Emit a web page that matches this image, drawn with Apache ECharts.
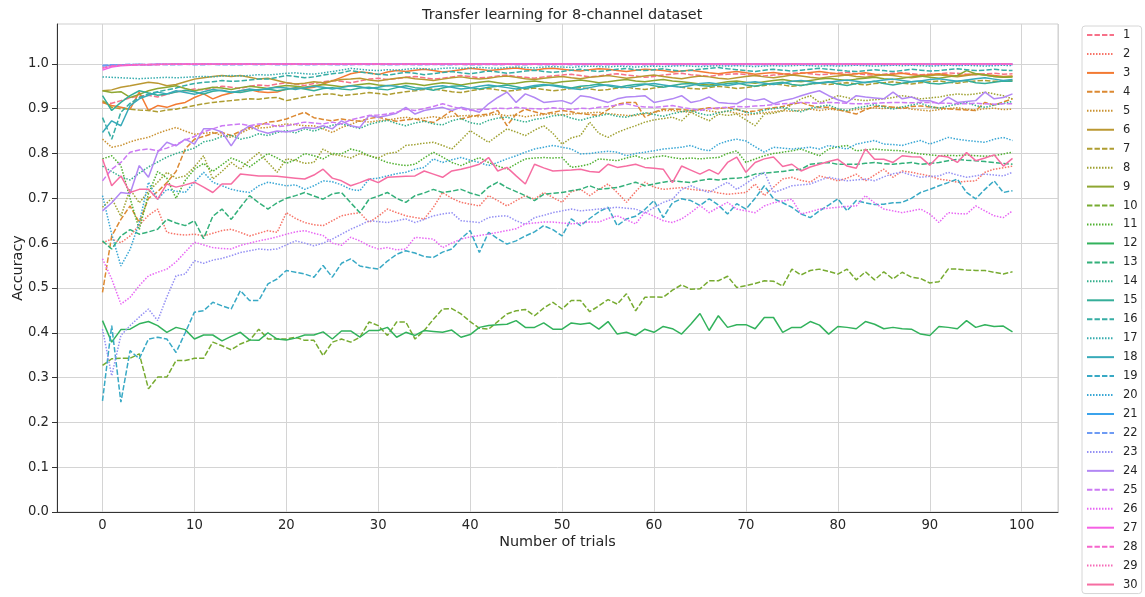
<!DOCTYPE html>
<html>
<head>
<meta charset="utf-8">
<title>Transfer learning for 8-channel dataset</title>
<script src="https://cdn.jsdelivr.net/npm/echarts@6/dist/echarts.min.js"></script>
<style>
  html, body { margin: 0; padding: 0; background: #ffffff; }
  #chart { width: 1145px; height: 597px; }
</style>
</head>
<body>
<div id="chart"></div>
<script>
// Accuracy per trial (trials 0..99) for each of the 30 runs
const s1 = [
  0.914, 0.912, 0.918, 0.924, 0.928, 0.930, 0.926, 0.932, 0.938, 0.940,
  0.944, 0.942, 0.946, 0.950, 0.948, 0.945, 0.950, 0.953, 0.951, 0.955,
  0.958, 0.955, 0.952, 0.956, 0.960, 0.963, 0.961, 0.958, 0.962, 0.966,
  0.968, 0.965, 0.967, 0.970, 0.972, 0.969, 0.966, 0.968, 0.971, 0.974,
  0.972, 0.969, 0.970, 0.973, 0.975, 0.972, 0.970, 0.968, 0.971, 0.973,
  0.975, 0.977, 0.974, 0.971, 0.973, 0.976, 0.978, 0.975, 0.973, 0.970,
  0.972, 0.975, 0.977, 0.979, 0.976, 0.974, 0.972, 0.975, 0.977, 0.978,
  0.976, 0.974, 0.973, 0.975, 0.977, 0.979, 0.980, 0.978, 0.976, 0.977,
  0.979, 0.981, 0.978, 0.976, 0.975, 0.977, 0.979, 0.980, 0.978, 0.976,
  0.977, 0.978, 0.980, 0.979, 0.977, 0.976, 0.978, 0.979, 0.977, 0.978
];
const s2 = [
  0.601, 0.609, 0.601, 0.616, 0.640, 0.662, 0.676, 0.624, 0.620, 0.618,
  0.620, 0.616, 0.622, 0.628, 0.631, 0.624, 0.616, 0.622, 0.628, 0.624,
  0.668, 0.655, 0.646, 0.641, 0.639, 0.650, 0.661, 0.665, 0.668, 0.646,
  0.660, 0.676, 0.668, 0.661, 0.657, 0.654, 0.680, 0.713, 0.700, 0.691,
  0.687, 0.683, 0.706, 0.695, 0.683, 0.695, 0.706, 0.698, 0.713, 0.702,
  0.691, 0.715, 0.720, 0.706, 0.720, 0.732, 0.713, 0.691, 0.715, 0.736,
  0.725, 0.720, 0.722, 0.724, 0.720, 0.718, 0.717, 0.712, 0.709, 0.711,
  0.713, 0.732, 0.706, 0.725, 0.743, 0.747, 0.740, 0.736, 0.750, 0.745,
  0.739, 0.745, 0.754, 0.739, 0.752, 0.765, 0.747, 0.761, 0.758, 0.754,
  0.750, 0.743, 0.740, 0.736, 0.738, 0.739, 0.758, 0.765, 0.768, 0.772
];
const s3 = [
  0.914, 0.907, 0.903, 0.899, 0.937, 0.896, 0.907, 0.903, 0.910, 0.914,
  0.925, 0.933, 0.922, 0.930, 0.935, 0.940, 0.943, 0.938, 0.936, 0.937,
  0.944, 0.946, 0.945, 0.948, 0.955, 0.962, 0.970, 0.978, 0.982, 0.980,
  0.976, 0.982, 0.985, 0.983, 0.986, 0.988, 0.985, 0.982, 0.984, 0.987,
  0.990, 0.988, 0.985, 0.987, 0.989, 0.991, 0.988, 0.986, 0.989, 0.990,
  0.988, 0.986, 0.984, 0.987, 0.989, 0.988, 0.985, 0.983, 0.986, 0.988,
  0.987, 0.985, 0.982, 0.984, 0.986, 0.983, 0.980, 0.978, 0.981, 0.983,
  0.980, 0.977, 0.979, 0.981, 0.978, 0.976, 0.979, 0.981, 0.983, 0.980,
  0.978, 0.976, 0.978, 0.980, 0.977, 0.975, 0.977, 0.979, 0.976, 0.974,
  0.976, 0.978, 0.975, 0.973, 0.976, 0.978, 0.976, 0.974, 0.972, 0.973
];
const s4 = [
  0.490, 0.616, 0.653, 0.683, 0.646, 0.700, 0.715, 0.735, 0.760, 0.810,
  0.832, 0.838, 0.845, 0.847, 0.840, 0.850, 0.858, 0.862, 0.870, 0.872,
  0.877, 0.885, 0.892, 0.880, 0.876, 0.873, 0.877, 0.874, 0.872, 0.878,
  0.881, 0.876, 0.872, 0.875, 0.877, 0.873, 0.869, 0.882, 0.896, 0.877,
  0.882, 0.886, 0.888, 0.896, 0.862, 0.888, 0.899, 0.893, 0.888, 0.892,
  0.896, 0.893, 0.889, 0.887, 0.885, 0.898, 0.910, 0.914, 0.914, 0.881,
  0.892, 0.899, 0.899, 0.898, 0.896, 0.899, 0.902, 0.900, 0.903, 0.898,
  0.893, 0.895, 0.899, 0.902, 0.905, 0.910, 0.914, 0.907, 0.903, 0.903,
  0.898, 0.893, 0.888, 0.898, 0.905, 0.906, 0.903, 0.900, 0.905, 0.906,
  0.904, 0.902, 0.900, 0.898, 0.897, 0.896, 0.914, 0.908, 0.915, 0.922
];
const s5 = [
  0.832, 0.814, 0.818, 0.826, 0.832, 0.836, 0.845, 0.852, 0.858, 0.850,
  0.843, 0.845, 0.847, 0.840, 0.836, 0.845, 0.855, 0.857, 0.858, 0.862,
  0.866, 0.864, 0.862, 0.862, 0.855, 0.847, 0.858, 0.865, 0.873, 0.870,
  0.873, 0.875, 0.878, 0.881, 0.877, 0.879, 0.882, 0.879, 0.883, 0.884,
  0.885, 0.882, 0.886, 0.888, 0.884, 0.886, 0.882, 0.885, 0.887, 0.889,
  0.886, 0.888, 0.890, 0.891, 0.892, 0.889, 0.887, 0.885, 0.885, 0.889,
  0.892, 0.896, 0.896, 0.894, 0.892, 0.898, 0.895, 0.892, 0.894, 0.890,
  0.886, 0.888, 0.891, 0.893, 0.896, 0.894, 0.897, 0.899, 0.896, 0.899,
  0.897, 0.895, 0.898, 0.900, 0.902, 0.900, 0.903, 0.903, 0.899, 0.897,
  0.895, 0.898, 0.900, 0.902, 0.899, 0.897, 0.900, 0.901, 0.898, 0.899
];
const s6 = [
  0.940, 0.942, 0.948, 0.951, 0.955, 0.959, 0.957, 0.951, 0.954, 0.960,
  0.966, 0.969, 0.972, 0.974, 0.972, 0.974, 0.970, 0.966, 0.968, 0.963,
  0.958, 0.955, 0.957, 0.960, 0.958, 0.962, 0.965, 0.966, 0.968, 0.964,
  0.962, 0.965, 0.968, 0.970, 0.967, 0.965, 0.963, 0.966, 0.969, 0.971,
  0.968, 0.966, 0.968, 0.971, 0.973, 0.970, 0.967, 0.965, 0.968, 0.970,
  0.972, 0.969, 0.967, 0.970, 0.972, 0.974, 0.971, 0.968, 0.970, 0.973,
  0.975, 0.972, 0.969, 0.967, 0.970, 0.973, 0.971, 0.968, 0.966, 0.969,
  0.972, 0.974, 0.971, 0.969, 0.972, 0.975, 0.973, 0.970, 0.968, 0.971,
  0.973, 0.975, 0.972, 0.970, 0.973, 0.976, 0.974, 0.971, 0.969, 0.972,
  0.974, 0.976, 0.973, 0.971, 0.974, 0.977, 0.975, 0.972, 0.970, 0.972
];
const s7 = [
  0.918, 0.903, 0.900, 0.899, 0.897, 0.896, 0.893, 0.897, 0.899, 0.903,
  0.907, 0.911, 0.914, 0.916, 0.918, 0.920, 0.922, 0.921, 0.924, 0.925,
  0.918, 0.922, 0.926, 0.930, 0.932, 0.933, 0.929, 0.931, 0.933, 0.936,
  0.934, 0.931, 0.935, 0.938, 0.940, 0.943, 0.944, 0.941, 0.938, 0.936,
  0.940, 0.943, 0.945, 0.942, 0.939, 0.941, 0.944, 0.946, 0.943, 0.940,
  0.942, 0.945, 0.947, 0.944, 0.941, 0.943, 0.946, 0.948, 0.945, 0.943,
  0.946, 0.949, 0.951, 0.948, 0.945, 0.944, 0.947, 0.950, 0.948, 0.945,
  0.947, 0.950, 0.952, 0.955, 0.953, 0.950, 0.952, 0.955, 0.957, 0.954,
  0.956, 0.958, 0.955, 0.953, 0.956, 0.958, 0.960, 0.957, 0.955, 0.958,
  0.960, 0.962, 0.959, 0.957, 0.960, 0.962, 0.963, 0.961, 0.962, 0.963
];
const s8 = [
  0.680, 0.700, 0.660, 0.720, 0.690, 0.715, 0.736, 0.758, 0.745, 0.750,
  0.770, 0.795, 0.743, 0.760, 0.780, 0.765, 0.785, 0.802, 0.780, 0.758,
  0.788, 0.785, 0.778, 0.780, 0.810, 0.798, 0.795, 0.790, 0.800, 0.795,
  0.790, 0.800, 0.803, 0.818, 0.820, 0.823, 0.825, 0.818, 0.810, 0.830,
  0.851, 0.838, 0.825, 0.840, 0.855, 0.848, 0.840, 0.852, 0.862, 0.845,
  0.821, 0.835, 0.840, 0.870, 0.845, 0.836, 0.847, 0.855, 0.862, 0.870,
  0.875, 0.878, 0.881, 0.873, 0.892, 0.882, 0.873, 0.888, 0.885, 0.888,
  0.875, 0.862, 0.888, 0.890, 0.895, 0.910, 0.922, 0.929, 0.914, 0.920,
  0.929, 0.925, 0.920, 0.918, 0.920, 0.922, 0.925, 0.929, 0.926, 0.922,
  0.924, 0.926, 0.930, 0.933, 0.931, 0.933, 0.937, 0.933, 0.929, 0.922
];
const s9 = [
  0.940, 0.936, 0.938, 0.925, 0.932, 0.940, 0.945, 0.948, 0.951, 0.945,
  0.940, 0.944, 0.948, 0.946, 0.943, 0.947, 0.950, 0.948, 0.945, 0.949,
  0.952, 0.950, 0.948, 0.951, 0.954, 0.952, 0.949, 0.951, 0.954, 0.956,
  0.953, 0.951, 0.954, 0.957, 0.955, 0.952, 0.955, 0.958, 0.956, 0.953,
  0.956, 0.959, 0.961, 0.958, 0.955, 0.957, 0.960, 0.962, 0.959, 0.957,
  0.960, 0.962, 0.964, 0.961, 0.958, 0.960, 0.963, 0.965, 0.962, 0.960,
  0.963, 0.965, 0.962, 0.960, 0.958, 0.955, 0.953, 0.957, 0.960, 0.962,
  0.959, 0.957, 0.960, 0.963, 0.965, 0.962, 0.960, 0.963, 0.966, 0.968,
  0.965, 0.963, 0.966, 0.968, 0.970, 0.967, 0.965, 0.968, 0.971, 0.973,
  0.970, 0.968, 0.971, 0.974, 0.985, 0.978, 0.975, 0.972, 0.970, 0.971
];
const s10 = [
  0.327, 0.342, 0.343, 0.343, 0.353, 0.275, 0.301, 0.301, 0.338, 0.338,
  0.343, 0.343, 0.379, 0.371, 0.362, 0.375, 0.383, 0.408, 0.386, 0.386,
  0.386, 0.390, 0.383, 0.383, 0.349, 0.379, 0.386, 0.379, 0.390, 0.424,
  0.416, 0.394, 0.424, 0.424, 0.386, 0.405, 0.430, 0.453, 0.454, 0.442,
  0.425, 0.410, 0.408, 0.425, 0.442, 0.449, 0.452, 0.438, 0.455, 0.468,
  0.453, 0.472, 0.472, 0.447, 0.460, 0.474, 0.464, 0.487, 0.449, 0.479,
  0.480, 0.479, 0.495, 0.507, 0.497, 0.498, 0.516, 0.516, 0.526, 0.501,
  0.505, 0.510, 0.516, 0.515, 0.504, 0.542, 0.529, 0.539, 0.542, 0.537,
  0.531, 0.542, 0.518, 0.536, 0.518, 0.536, 0.520, 0.535, 0.524, 0.521,
  0.511, 0.514, 0.542, 0.542, 0.540, 0.539, 0.539, 0.535, 0.531, 0.536
];
const s11 = [
  0.788, 0.795, 0.773, 0.700, 0.630, 0.710, 0.760, 0.745, 0.700, 0.740,
  0.765, 0.778, 0.760, 0.775, 0.790, 0.782, 0.770, 0.785, 0.800, 0.790,
  0.778, 0.786, 0.800, 0.795, 0.788, 0.800, 0.799, 0.810, 0.805, 0.795,
  0.788, 0.780, 0.776, 0.773, 0.776, 0.790, 0.803, 0.792, 0.780, 0.773,
  0.782, 0.791, 0.780, 0.772, 0.765, 0.777, 0.788, 0.790, 0.791, 0.790,
  0.791, 0.769, 0.772, 0.776, 0.788, 0.786, 0.784, 0.790, 0.795, 0.788,
  0.792, 0.795, 0.791, 0.788, 0.790, 0.788, 0.790, 0.791, 0.800, 0.806,
  0.780, 0.788, 0.795, 0.800, 0.803, 0.806, 0.810, 0.802, 0.795, 0.810,
  0.815, 0.818, 0.806, 0.808, 0.810, 0.808, 0.807, 0.806, 0.802, 0.799,
  0.797, 0.795, 0.796, 0.795, 0.797, 0.795, 0.794, 0.795, 0.799, 0.803
];
const s12 = [
  0.427, 0.379, 0.407, 0.408, 0.420, 0.425, 0.416, 0.401, 0.412, 0.407,
  0.386, 0.395, 0.395, 0.382, 0.392, 0.401, 0.384, 0.383, 0.400, 0.386,
  0.384, 0.388, 0.395, 0.395, 0.402, 0.386, 0.404, 0.404, 0.390, 0.405,
  0.405, 0.412, 0.390, 0.401, 0.394, 0.405, 0.403, 0.401, 0.406, 0.390,
  0.396, 0.412, 0.416, 0.418, 0.419, 0.427, 0.412, 0.412, 0.422, 0.408,
  0.408, 0.422, 0.419, 0.422, 0.408, 0.425, 0.397, 0.401, 0.394, 0.408,
  0.401, 0.414, 0.409, 0.397, 0.419, 0.443, 0.405, 0.438, 0.412, 0.418,
  0.418, 0.409, 0.434, 0.434, 0.401, 0.412, 0.412, 0.425, 0.417, 0.397,
  0.414, 0.412, 0.409, 0.425, 0.419, 0.409, 0.412, 0.409, 0.408, 0.397,
  0.394, 0.414, 0.412, 0.409, 0.427, 0.412, 0.418, 0.414, 0.415, 0.402
];
const s13 = [
  0.605, 0.587, 0.616, 0.630, 0.620, 0.625, 0.631, 0.653, 0.645, 0.639,
  0.650, 0.610, 0.660, 0.676, 0.653, 0.680, 0.706, 0.690, 0.676, 0.690,
  0.700, 0.706, 0.713, 0.705, 0.698, 0.710, 0.713, 0.690, 0.668, 0.698,
  0.705, 0.713, 0.700, 0.691, 0.706, 0.712, 0.720, 0.713, 0.716, 0.720,
  0.712, 0.706, 0.725, 0.736, 0.724, 0.715, 0.706, 0.695, 0.709, 0.711,
  0.713, 0.717, 0.720, 0.728, 0.720, 0.722, 0.724, 0.730, 0.736, 0.728,
  0.732, 0.736, 0.739, 0.737, 0.735, 0.740, 0.743, 0.741, 0.744, 0.745,
  0.747, 0.754, 0.756, 0.758, 0.760, 0.763, 0.765, 0.776, 0.778, 0.780,
  0.776, 0.776, 0.776, 0.778, 0.780, 0.777, 0.776, 0.778, 0.780, 0.776,
  0.778, 0.780, 0.784, 0.787, 0.785, 0.784, 0.782, 0.780, 0.778, 0.776
];
const s14 = [
  0.772, 0.760, 0.748, 0.741, 0.756, 0.770, 0.781, 0.792, 0.800, 0.806,
  0.812, 0.826, 0.830, 0.838, 0.841, 0.832, 0.836, 0.844, 0.840, 0.847,
  0.851, 0.846, 0.855, 0.850, 0.857, 0.863, 0.866, 0.861, 0.856, 0.865,
  0.870, 0.874, 0.867, 0.862, 0.868, 0.872, 0.866, 0.864, 0.873, 0.878,
  0.869, 0.865, 0.874, 0.879, 0.881, 0.875, 0.870, 0.876, 0.879, 0.884,
  0.886, 0.879, 0.874, 0.880, 0.884, 0.888, 0.883, 0.881, 0.887, 0.891,
  0.887, 0.883, 0.889, 0.893, 0.896, 0.889, 0.885, 0.891, 0.895, 0.899,
  0.892, 0.889, 0.897, 0.900, 0.903, 0.897, 0.893, 0.901, 0.905, 0.908,
  0.900, 0.896, 0.902, 0.905, 0.909, 0.904, 0.899, 0.904, 0.908, 0.912,
  0.905, 0.901, 0.906, 0.910, 0.914, 0.907, 0.903, 0.908, 0.912, 0.916
];
const s15 = [
  0.929, 0.896, 0.914, 0.929, 0.940, 0.935, 0.930, 0.933, 0.937, 0.941,
  0.938, 0.933, 0.939, 0.941, 0.937, 0.936, 0.940, 0.943, 0.944, 0.940,
  0.943, 0.947, 0.944, 0.940, 0.945, 0.947, 0.944, 0.942, 0.946, 0.948,
  0.944, 0.942, 0.947, 0.951, 0.947, 0.945, 0.941, 0.946, 0.950, 0.951,
  0.947, 0.944, 0.948, 0.950, 0.953, 0.949, 0.945, 0.949, 0.952, 0.953,
  0.950, 0.946, 0.950, 0.952, 0.955, 0.951, 0.947, 0.951, 0.954, 0.955,
  0.951, 0.948, 0.952, 0.955, 0.956, 0.952, 0.950, 0.953, 0.956, 0.958,
  0.953, 0.950, 0.954, 0.957, 0.959, 0.954, 0.952, 0.955, 0.958, 0.960,
  0.955, 0.952, 0.956, 0.959, 0.961, 0.956, 0.953, 0.957, 0.960, 0.962,
  0.957, 0.955, 0.958, 0.961, 0.963, 0.958, 0.956, 0.959, 0.962, 0.961
];
const s16 = [
  0.880, 0.832, 0.892, 0.912, 0.925, 0.933, 0.938, 0.942, 0.946, 0.952,
  0.956, 0.959, 0.960, 0.963, 0.961, 0.962, 0.964, 0.966, 0.966, 0.970,
  0.974, 0.972, 0.969, 0.971, 0.975, 0.978, 0.980, 0.985, 0.982, 0.979,
  0.977, 0.975, 0.978, 0.981, 0.979, 0.976, 0.978, 0.981, 0.983, 0.980,
  0.978, 0.981, 0.984, 0.982, 0.979, 0.981, 0.984, 0.986, 0.983, 0.981,
  0.983, 0.986, 0.988, 0.985, 0.983, 0.985, 0.988, 0.990, 0.987, 0.985,
  0.987, 0.989, 0.986, 0.984, 0.986, 0.988, 0.990, 0.992, 0.989, 0.987,
  0.985, 0.983, 0.986, 0.988, 0.986, 0.984, 0.986, 0.988, 0.990, 0.988,
  0.986, 0.984, 0.983, 0.985, 0.987, 0.985, 0.983, 0.985, 0.988, 0.986,
  0.984, 0.985, 0.987, 0.989, 0.987, 0.985, 0.986, 0.988, 0.986, 0.985
];
const s17 = [
  0.971, 0.970, 0.969, 0.968, 0.967, 0.968, 0.969, 0.970, 0.969, 0.970,
  0.971, 0.972, 0.971, 0.973, 0.974, 0.973, 0.974, 0.976, 0.975, 0.977,
  0.979, 0.980, 0.978, 0.977, 0.980, 0.983, 0.986, 0.990, 0.988, 0.986,
  0.985, 0.987, 0.986, 0.988, 0.990, 0.989, 0.988, 0.990, 0.991, 0.990,
  0.991, 0.992, 0.991, 0.990, 0.992, 0.993, 0.992, 0.991, 0.993, 0.994,
  0.993, 0.992, 0.994, 0.995, 0.994, 0.993, 0.995, 0.994, 0.993, 0.994,
  0.995, 0.994, 0.995, 0.996, 0.995, 0.994, 0.995, 0.996, 0.995, 0.996,
  0.995, 0.994, 0.995, 0.996, 0.995, 0.996, 0.997, 0.996, 0.995, 0.996,
  0.995, 0.996, 0.997, 0.996, 0.995, 0.996, 0.997, 0.996, 0.997, 0.996,
  0.995, 0.996, 0.997, 0.996, 0.997, 0.996, 0.995, 0.996, 0.997, 0.996
];
const s18 = [
  0.847, 0.873, 0.862, 0.907, 0.922, 0.930, 0.937, 0.933, 0.940, 0.936,
  0.932, 0.938, 0.943, 0.940, 0.936, 0.940, 0.944, 0.941, 0.945, 0.948,
  0.946, 0.943, 0.947, 0.950, 0.948, 0.944, 0.947, 0.951, 0.949, 0.945,
  0.948, 0.952, 0.950, 0.946, 0.942, 0.945, 0.949, 0.951, 0.948, 0.944,
  0.946, 0.950, 0.953, 0.950, 0.947, 0.944, 0.948, 0.952, 0.954, 0.951,
  0.948, 0.945, 0.943, 0.947, 0.951, 0.953, 0.950, 0.947, 0.950, 0.954,
  0.956, 0.953, 0.950, 0.948, 0.952, 0.956, 0.958, 0.955, 0.952, 0.955,
  0.958, 0.960, 0.957, 0.954, 0.957, 0.961, 0.963, 0.960, 0.957, 0.959,
  0.962, 0.964, 0.961, 0.958, 0.961, 0.964, 0.966, 0.963, 0.960, 0.962,
  0.965, 0.967, 0.964, 0.961, 0.964, 0.967, 0.969, 0.966, 0.963, 0.965
];
const s19 = [
  0.248, 0.416, 0.245, 0.360, 0.342, 0.386, 0.390, 0.386, 0.356, 0.400,
  0.446, 0.449, 0.468, 0.460, 0.453, 0.494, 0.472, 0.472, 0.509, 0.520,
  0.539, 0.535, 0.531, 0.524, 0.550, 0.524, 0.555, 0.565, 0.549, 0.545,
  0.542, 0.560, 0.575, 0.583, 0.578, 0.570, 0.568, 0.580, 0.587, 0.610,
  0.628, 0.579, 0.624, 0.610, 0.598, 0.605, 0.616, 0.625, 0.639, 0.630,
  0.616, 0.654, 0.639, 0.655, 0.670, 0.680, 0.639, 0.654, 0.660, 0.675,
  0.695, 0.657, 0.690, 0.699, 0.695, 0.684, 0.699, 0.685, 0.665, 0.688,
  0.676, 0.700, 0.728, 0.699, 0.690, 0.680, 0.665, 0.657, 0.672, 0.685,
  0.699, 0.672, 0.695, 0.690, 0.686, 0.687, 0.690, 0.691, 0.700, 0.713,
  0.720, 0.728, 0.735, 0.743, 0.713, 0.699, 0.720, 0.739, 0.713, 0.717
];
const s20 = [
  0.706, 0.620, 0.549, 0.586, 0.646, 0.736, 0.698, 0.720, 0.716, 0.713,
  0.736, 0.758, 0.736, 0.728, 0.720, 0.716, 0.713, 0.728, 0.736, 0.732,
  0.728, 0.730, 0.720, 0.728, 0.739, 0.737, 0.730, 0.720, 0.717, 0.743,
  0.745, 0.750, 0.755, 0.758, 0.765, 0.769, 0.788, 0.780, 0.786, 0.791,
  0.785, 0.780, 0.773, 0.780, 0.788, 0.795, 0.803, 0.810, 0.814, 0.818,
  0.814, 0.810, 0.799, 0.800, 0.803, 0.805, 0.803, 0.795, 0.800, 0.803,
  0.806, 0.810, 0.812, 0.814, 0.818, 0.810, 0.806, 0.821, 0.828, 0.832,
  0.828, 0.815, 0.803, 0.814, 0.812, 0.810, 0.812, 0.814, 0.810, 0.818,
  0.814, 0.810, 0.821, 0.825, 0.829, 0.821, 0.820, 0.818, 0.824, 0.829,
  0.821, 0.828, 0.836, 0.832, 0.829, 0.827, 0.825, 0.832, 0.836, 0.829
];
const s21 = [
  0.995, 0.997, 0.998, 0.998, 0.999, 0.998, 0.999, 0.999, 1.000, 0.999,
  0.999, 1.000, 0.999, 1.000, 1.000, 0.999, 1.000, 1.000, 0.999, 1.000,
  1.000, 1.000, 0.999, 1.000, 1.000, 1.000, 0.999, 1.000, 1.000, 1.000,
  1.000, 0.999, 1.000, 1.000, 1.000, 1.000, 0.999, 1.000, 1.000, 1.000,
  1.000, 1.000, 1.000, 0.999, 1.000, 1.000, 1.000, 1.000, 1.000, 0.999,
  1.000, 1.000, 1.000, 1.000, 1.000, 1.000, 0.999, 1.000, 1.000, 1.000,
  1.000, 1.000, 1.000, 1.000, 0.999, 1.000, 1.000, 1.000, 1.000, 1.000,
  1.000, 1.000, 0.999, 1.000, 1.000, 1.000, 1.000, 1.000, 1.000, 1.000,
  0.999, 1.000, 1.000, 1.000, 1.000, 1.000, 1.000, 0.999, 1.000, 1.000,
  1.000, 1.000, 1.000, 1.000, 1.000, 0.999, 1.000, 1.000, 1.000, 1.000
];
const s22 = [
  0.997, 0.998, 0.998, 0.999, 0.998, 0.998, 0.999, 0.998, 0.998, 0.999,
  0.998, 0.998, 0.999, 0.998, 0.998, 0.998, 0.999, 0.998, 0.999, 0.998,
  0.998, 0.999, 0.998, 0.998, 0.999, 0.998, 0.998, 0.998, 0.999, 0.998,
  0.999, 0.998, 0.998, 0.999, 0.998, 0.998, 0.999, 0.998, 0.998, 0.999,
  0.998, 0.998, 0.999, 0.998, 0.999, 0.998, 0.998, 0.999, 0.998, 0.998,
  0.999, 0.998, 0.998, 0.999, 0.998, 0.998, 0.999, 0.998, 0.999, 0.998,
  0.998, 0.999, 0.998, 0.998, 0.999, 0.998, 0.998, 0.999, 0.998, 0.998,
  0.999, 0.998, 0.998, 0.999, 0.998, 0.999, 0.998, 0.998, 0.999, 0.998,
  0.998, 0.999, 0.998, 0.998, 0.999, 0.998, 0.998, 0.999, 0.998, 0.999,
  0.998, 0.998, 0.999, 0.998, 0.998, 0.999, 0.998, 0.998, 0.999, 0.998
];
const s23 = [
  0.408, 0.304, 0.394, 0.416, 0.435, 0.453, 0.427, 0.480, 0.527, 0.531,
  0.561, 0.555, 0.562, 0.566, 0.572, 0.579, 0.583, 0.587, 0.585, 0.587,
  0.596, 0.605, 0.600, 0.594, 0.600, 0.609, 0.620, 0.631, 0.640, 0.650,
  0.648, 0.646, 0.650, 0.654, 0.646, 0.653, 0.661, 0.665, 0.668, 0.650,
  0.648, 0.646, 0.657, 0.660, 0.661, 0.650, 0.642, 0.657, 0.662, 0.668,
  0.672, 0.676, 0.672, 0.674, 0.676, 0.678, 0.680, 0.678, 0.676, 0.668,
  0.679, 0.691, 0.698, 0.720, 0.728, 0.720, 0.713, 0.725, 0.736, 0.720,
  0.733, 0.747, 0.758, 0.713, 0.720, 0.728, 0.730, 0.732, 0.740, 0.747,
  0.743, 0.739, 0.741, 0.743, 0.739, 0.748, 0.755, 0.758, 0.752, 0.747,
  0.749, 0.750, 0.758, 0.752, 0.747, 0.750, 0.754, 0.752, 0.750, 0.758
];
const s24 = [
  0.672, 0.690, 0.713, 0.710, 0.773, 0.747, 0.803, 0.825, 0.817, 0.832,
  0.821, 0.855, 0.855, 0.848, 0.817, 0.848, 0.862, 0.851, 0.845, 0.850,
  0.848, 0.852, 0.858, 0.856, 0.862, 0.855, 0.873, 0.862, 0.858, 0.885,
  0.881, 0.885, 0.890, 0.903, 0.888, 0.896, 0.900, 0.903, 0.896, 0.903,
  0.898, 0.892, 0.911, 0.925, 0.937, 0.914, 0.933, 0.925, 0.914, 0.916,
  0.918, 0.911, 0.929, 0.926, 0.920, 0.914, 0.922, 0.926, 0.927, 0.929,
  0.914, 0.918, 0.922, 0.929, 0.914, 0.918, 0.926, 0.914, 0.912, 0.911,
  0.922, 0.918, 0.922, 0.911, 0.918, 0.922, 0.929, 0.935, 0.940, 0.929,
  0.920, 0.914, 0.929, 0.926, 0.924, 0.922, 0.937, 0.922, 0.926, 0.918,
  0.918, 0.911, 0.926, 0.914, 0.916, 0.918, 0.937, 0.922, 0.925, 0.933
];
const s25 = [
  0.739, 0.765, 0.780, 0.803, 0.808, 0.810, 0.806, 0.812, 0.820, 0.830,
  0.838, 0.848, 0.855, 0.862, 0.864, 0.866, 0.862, 0.866, 0.866, 0.860,
  0.862, 0.866, 0.870, 0.868, 0.866, 0.870, 0.866, 0.875, 0.880, 0.885,
  0.886, 0.888, 0.892, 0.899, 0.896, 0.900, 0.905, 0.911, 0.905, 0.900,
  0.896, 0.898, 0.899, 0.901, 0.900, 0.903, 0.901, 0.900, 0.899, 0.902,
  0.900, 0.898, 0.901, 0.900, 0.903, 0.905, 0.908, 0.911, 0.906, 0.904,
  0.903, 0.905, 0.907, 0.903, 0.900, 0.896, 0.900, 0.902, 0.903, 0.905,
  0.904, 0.906, 0.907, 0.909, 0.911, 0.912, 0.914, 0.913, 0.912, 0.914,
  0.913, 0.912, 0.911, 0.911, 0.912, 0.913, 0.914, 0.914, 0.913, 0.914,
  0.914, 0.913, 0.912, 0.911, 0.911, 0.912, 0.911, 0.910, 0.911, 0.911
];
const s26 = [
  0.565, 0.520, 0.464, 0.479, 0.505, 0.527, 0.535, 0.542, 0.558, 0.580,
  0.602, 0.596, 0.590, 0.588, 0.587, 0.595, 0.600, 0.605, 0.609, 0.614,
  0.620, 0.625, 0.628, 0.622, 0.617, 0.600, 0.595, 0.613, 0.605, 0.594,
  0.587, 0.590, 0.585, 0.587, 0.613, 0.611, 0.609, 0.590, 0.600, 0.609,
  0.614, 0.617, 0.620, 0.624, 0.628, 0.632, 0.643, 0.645, 0.647, 0.647,
  0.645, 0.643, 0.645, 0.647, 0.647, 0.655, 0.661, 0.652, 0.643, 0.669,
  0.660, 0.650, 0.646, 0.654, 0.668, 0.684, 0.668, 0.680, 0.691, 0.676,
  0.672, 0.668, 0.683, 0.690, 0.694, 0.698, 0.665, 0.670, 0.676, 0.678,
  0.680, 0.682, 0.683, 0.706, 0.690, 0.676, 0.672, 0.668, 0.672, 0.676,
  0.665, 0.646, 0.668, 0.666, 0.665, 0.683, 0.672, 0.661, 0.657, 0.672
];
const s27 = [
  0.986, 0.993, 0.996, 0.997, 0.998, 0.998, 0.999, 0.999, 0.999, 1.000,
  0.999, 1.000, 1.000, 0.999, 1.000, 1.000, 1.000, 0.999, 1.000, 1.000,
  1.000, 1.000, 1.000, 1.000, 0.999, 1.000, 1.000, 1.000, 1.000, 1.000,
  1.000, 1.000, 0.999, 1.000, 1.000, 1.000, 1.000, 1.000, 1.000, 1.000,
  1.000, 0.999, 1.000, 1.000, 1.000, 1.000, 1.000, 1.000, 1.000, 1.000,
  1.000, 1.000, 1.000, 0.999, 1.000, 1.000, 1.000, 1.000, 1.000, 1.000,
  1.000, 1.000, 1.000, 1.000, 1.000, 1.000, 0.999, 1.000, 1.000, 1.000,
  1.000, 1.000, 1.000, 1.000, 1.000, 1.000, 1.000, 1.000, 0.999, 1.000,
  1.000, 1.000, 1.000, 1.000, 1.000, 1.000, 1.000, 1.000, 1.000, 1.000,
  0.999, 1.000, 1.000, 1.000, 1.000, 1.000, 1.000, 1.000, 1.000, 1.000
];
const s28 = [
  0.990, 0.995, 0.997, 0.998, 0.998, 0.999, 0.998, 0.999, 0.999, 0.999,
  1.000, 0.999, 0.999, 1.000, 0.999, 1.000, 0.999, 0.999, 1.000, 0.999,
  1.000, 0.999, 1.000, 0.999, 0.999, 1.000, 0.999, 1.000, 0.999, 1.000,
  0.999, 1.000, 0.999, 0.999, 1.000, 0.999, 1.000, 0.999, 1.000, 0.999,
  0.999, 1.000, 0.999, 1.000, 0.999, 1.000, 0.999, 0.999, 1.000, 0.999,
  1.000, 0.999, 1.000, 0.999, 0.999, 1.000, 0.999, 1.000, 0.999, 1.000,
  0.999, 1.000, 0.999, 0.999, 1.000, 0.999, 1.000, 0.999, 1.000, 0.999,
  0.999, 1.000, 0.999, 1.000, 0.999, 1.000, 0.999, 0.999, 1.000, 0.999,
  1.000, 0.999, 1.000, 0.999, 0.999, 1.000, 0.999, 1.000, 0.999, 1.000,
  0.999, 1.000, 0.999, 0.999, 1.000, 0.999, 1.000, 0.999, 1.000, 0.999
];
const s29 = [
  0.992, 0.996, 0.997, 0.998, 0.999, 0.998, 0.999, 0.999, 1.000, 0.999,
  0.999, 1.000, 0.999, 0.999, 1.000, 0.999, 1.000, 0.999, 0.999, 1.000,
  0.999, 1.000, 0.999, 1.000, 0.999, 0.999, 1.000, 0.999, 1.000, 0.999,
  1.000, 0.999, 0.999, 1.000, 0.999, 1.000, 0.999, 1.000, 0.999, 0.999,
  1.000, 0.999, 1.000, 0.999, 1.000, 0.999, 0.999, 1.000, 0.999, 1.000,
  0.999, 1.000, 0.999, 0.999, 1.000, 0.999, 1.000, 0.999, 1.000, 0.999,
  0.999, 1.000, 0.999, 1.000, 0.999, 1.000, 0.999, 0.999, 1.000, 0.999,
  1.000, 0.999, 1.000, 0.999, 0.999, 1.000, 0.999, 1.000, 0.999, 1.000,
  0.999, 0.999, 1.000, 0.999, 1.000, 0.999, 1.000, 0.999, 0.999, 1.000,
  0.999, 1.000, 0.999, 1.000, 0.999, 0.999, 1.000, 0.999, 1.000, 0.999
];
const s30 = [
  0.788, 0.728, 0.750, 0.713, 0.720, 0.720, 0.698, 0.732, 0.725, 0.730,
  0.736, 0.725, 0.713, 0.732, 0.732, 0.754, 0.752, 0.750, 0.750, 0.749,
  0.747, 0.745, 0.743, 0.752, 0.765, 0.745, 0.739, 0.728, 0.735, 0.743,
  0.735, 0.747, 0.748, 0.749, 0.750, 0.761, 0.754, 0.747, 0.761, 0.765,
  0.770, 0.776, 0.791, 0.761, 0.769, 0.750, 0.732, 0.776, 0.768, 0.761,
  0.762, 0.763, 0.765, 0.760, 0.758, 0.776, 0.769, 0.772, 0.776, 0.769,
  0.767, 0.765, 0.735, 0.772, 0.763, 0.754, 0.764, 0.754, 0.780, 0.792,
  0.758, 0.780, 0.788, 0.792, 0.771, 0.776, 0.761, 0.770, 0.776, 0.782,
  0.787, 0.772, 0.767, 0.810, 0.787, 0.787, 0.780, 0.795, 0.793, 0.792,
  0.774, 0.795, 0.792, 0.780, 0.802, 0.784, 0.790, 0.797, 0.772, 0.789
];

const runs = [s1, s2, s3, s4, s5, s6, s7, s8, s9, s10,
              s11, s12, s13, s14, s15, s16, s17, s18, s19, s20,
              s21, s22, s23, s24, s25, s26, s27, s28, s29, s30];
const runNames = ['1', '2', '3', '4', '5', '6', '7', '8', '9', '10',
                  '11', '12', '13', '14', '15', '16', '17', '18', '19', '20',
                  '21', '22', '23', '24', '25', '26', '27', '28', '29', '30'];
const yTicks = [0, 0.1, 0.2, 0.3, 0.4, 0.5, 0.6, 0.7, 0.8, 0.9, 1.0];

// HUSL colour space -> hex (evenly spaced hues, s = 0.9, l = 0.65)
const HUSL_M = [[3.2406, -1.5372, -0.4986], [-0.9689, 1.8758, 0.0415], [0.0557, -0.2040, 1.0570]];
function maxChroma(L, H) {
  const hrad = H / 180 * Math.PI, sinH = Math.sin(hrad), cosH = Math.cos(hrad);
  const sub1 = Math.pow(L + 16, 3) / 1560896;
  const sub2 = sub1 > 0.008856 ? sub1 : L / 903.3;
  let result = Infinity;
  for (const [m1, m2, m3] of HUSL_M) {
    const top = (0.99915 * m1 + 1.05122 * m2 + 1.14460 * m3) * sub2;
    const rbottom = 0.86330 * m3 - 0.17266 * m2;
    const lbottom = 0.12949 * m3 - 0.38848 * m1;
    const bottom = (rbottom * sinH + lbottom * cosH) * sub2;
    for (const t of [0, 1]) {
      const C = L * (top - 1.05122 * t) / (bottom + 0.17266 * sinH * t);
      if (C > 0 && C < result) result = C;
    }
  }
  return result;
}
function huslToHex(H, S, L) {
  const C = maxChroma(L, H) / 100 * S;
  const hrad = H / 180 * Math.PI;
  const U = Math.cos(hrad) * C, V = Math.sin(hrad) * C;
  const t = (L + 16) / 116;
  const Y = Math.pow(t, 3) > 0.008856 ? Math.pow(t, 3) : (116 * t - 16) / 903.3;
  const varU = U / (13 * L) + 0.19784, varV = V / (13 * L) + 0.46834;
  const X = -(9 * Y * varU) / ((varU - 4) * varV - varU * varV);
  const Z = (9 * Y - 15 * varV * Y - varV * X) / (3 * varV);
  const rgb = HUSL_M.map(r => {
    let c = r[0] * X + r[1] * Y + r[2] * Z;
    c = c <= 0.0031308 ? 12.92 * c : 1.055 * Math.pow(c, 1 / 2.4) - 0.055;
    c = Math.min(1, Math.max(0, c));
    return Math.round(c * 255);
  });
  return '#' + rgb.map(v => v.toString(16).padStart(2, '0')).join('');
}
const palette = runNames.map((_, k) => huslToHex(((k / runNames.length + 0.01) % 1) * 359, 89.1, 64.35));

// dashed / dotted / solid repeat through the runs
const dashStyles = [[5.4, 2.1], [1.5, 1.5], 'solid'];

const FONT = 'DejaVu Sans';
const TEXT = '#262626';

const chart = echarts.init(document.getElementById('chart'), null, { renderer: 'canvas' });
chart.setOption({
  animation: false,
  backgroundColor: '#ffffff',
  textStyle: { fontFamily: FONT },
  title: {
    text: 'Transfer learning for 8-channel dataset',
    left: 417,
    top: 3,
    textStyle: { fontFamily: FONT, fontSize: 14.4, fontWeight: 'normal', color: TEXT }
  },
  grid: {
    left: 57, right: 87, top: 24, bottom: 85,
    outerBoundsMode: 'none',
    containLabel: false,
    show: true, borderColor: '#cfcfcf', borderWidth: 1, backgroundColor: '#ffffff'
  },
  legend: {
    orient: 'vertical',
    left: 1082,
    top: 26,
    padding: [3, 4, 3, 4],
    itemWidth: 27,
    itemHeight: 14,
    itemGap: 6.95,
    borderColor: '#d6d6d6',
    borderWidth: 1,
    borderRadius: 3,
    backgroundColor: '#ffffff',
    itemStyle: { opacity: 0, color: 'transparent', borderWidth: 0 },
    data: runNames,
    textStyle: { fontFamily: FONT, fontSize: 11.5, color: TEXT, padding: [0, 0, 0, 4] }
  },
  xAxis: {
    type: 'value',
    min: -4.95,
    max: 103.95,
    splitNumber: 10,
    minInterval: 10,
    maxInterval: 10,
    name: 'Number of trials',
    nameLocation: 'middle',
    nameGap: 23,
    nameMoveOverlap: false,
    nameTextStyle: { fontFamily: FONT, fontSize: 14.4, color: TEXT },
    axisLine: { show: true, onZero: false, lineStyle: { color: '#333333', width: 1 } },
    axisTick: { show: false },
    axisLabel: {
      showMinLabel: false, showMaxLabel: false, margin: 7,
      fontFamily: FONT, fontSize: 13.2, color: TEXT
    },
    splitLine: { show: true, lineStyle: { color: '#d4d4d4', width: 1 } }
  },
  yAxis: {
    type: 'value',
    min: 0,
    max: 1.089,
    interval: 0.1,
    name: 'Accuracy',
    nameLocation: 'middle',
    nameGap: 32,
    nameRotate: 90,
    nameMoveOverlap: false,
    nameTextStyle: { fontFamily: FONT, fontSize: 14.4, color: TEXT },
    axisLine: { show: true, onZero: false, lineStyle: { color: '#333333', width: 1 } },
    axisTick: { show: true, length: 5, customValues: yTicks, lineStyle: { color: '#333333' } },
    axisLabel: {
      customValues: yTicks, margin: 8,
      formatter: v => v.toFixed(1),
      fontFamily: FONT, fontSize: 13.2, color: TEXT
    },
    splitLine: { show: true, lineStyle: { color: '#d4d4d4', width: 1 } }
  },
  series: runs.map((vals, k) => ({
    name: runNames[k],
    type: 'line',
    data: vals.map((v, i) => [i, v]),
    symbol: 'none',
    silent: true,
    clip: true,
    color: palette[k],
    itemStyle: { color: palette[k] },
    lineStyle: { color: palette[k], width: 1.5, type: dashStyles[k % 3] },
    emphasis: { disabled: true }
  }))
});
</script>
</body>
</html>
